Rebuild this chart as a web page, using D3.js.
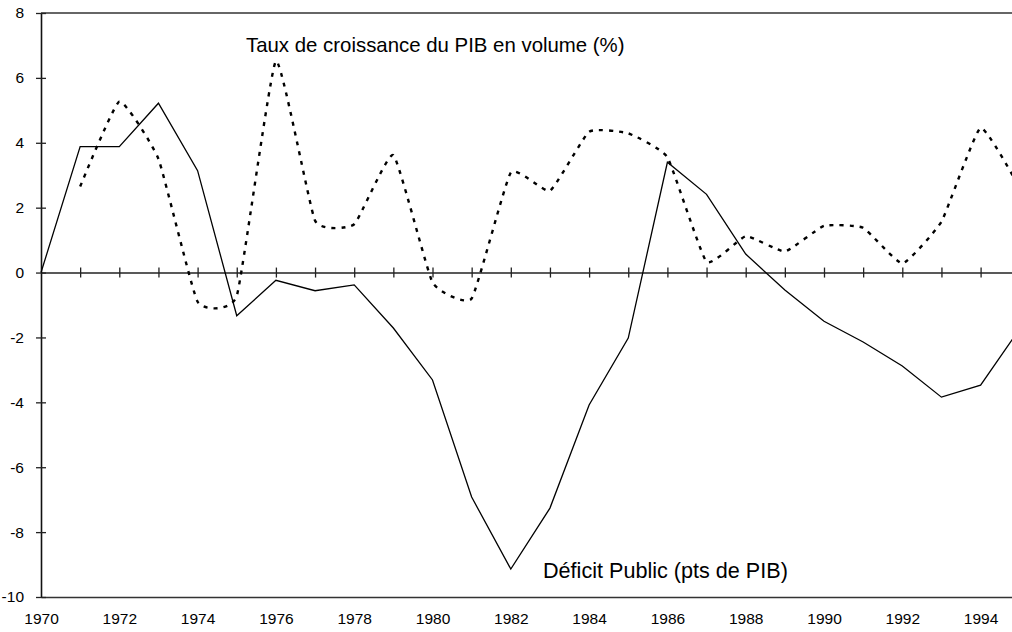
<!DOCTYPE html>
<html>
<head>
<meta charset="utf-8">
<script src="https://cdn.jsdelivr.net/npm/d3@7"></script>
<style>
  body { margin: 0; background: #fff; }
  svg { display: block; font-family: Arial, "Liberation Sans", sans-serif; }
</style>
</head>
<body>
<svg id="chart" width="1012" height="632"></svg>
<script>
// annual values
const years = [1970, 1971, 1972, 1973, 1974, 1975, 1976, 1977, 1978, 1979, 1980, 1981, 1982,
  1983, 1984, 1985, 1986, 1987, 1988, 1989, 1990, 1991, 1992, 1993, 1994, 1995];
const deficit = [0, 3.88, 3.88, 5.22, 3.14, -1.33, -0.24, -0.56, -0.38, -1.71, -3.31, -6.92, -9.14,
  -7.26, -4.08, -2.02, 3.40, 2.41, 0.57, -0.54, -1.5, -2.14, -2.88, -3.84, -3.47, -1.73];
const growth = [null, 2.65, 5.27, 3.5, -0.9, -0.72, 6.52, 1.6, 1.49, 3.62, -0.3, -0.8, 3.08,
  2.52, 4.34, 4.29, 3.55, 0.33, 1.12, 0.65, 1.44, 1.38, 0.28, 1.57, 4.46, 2.6];
const yTicks = [-10, -8, -6, -4, -2, 0, 2, 4, 6, 8];
const xLabels = [1970, 1972, 1974, 1976, 1978, 1980, 1982, 1984, 1986, 1988, 1990, 1992, 1994];
const growthLabel = 'Taux de croissance du PIB en volume (%)';
const deficitLabel = 'Déficit Public (pts de PIB)';

const svg = d3.select('#chart');
const font = 'Arial, "Liberation Sans", sans-serif';

const x = d3.scaleLinear().domain([1970, 1995]).range([41, 1019.75]);
const y = d3.scaleLinear().domain([-10, 8]).range([597, 13]);

// frame (top / bottom), right side falls outside the picture
svg.append('line')
    .attr('x1', x(1970)).attr('x2', 1012)
    .attr('y1', y(8)).attr('y2', y(8))
    .attr('stroke', '#333').attr('stroke-width', 1.5);

// bottom axis: labels only, the domain line is the bottom of the frame
const xAxis = svg.append('g')
    .attr('transform', 'translate(0,' + y(-10) + ')')
    .call(d3.axisBottom(x).tickValues(xLabels).tickFormat(d3.format('d')).tickSize(0).tickPadding(16));
xAxis.select('.domain').attr('stroke', '#333').attr('stroke-width', 1.5);
xAxis.selectAll('text').attr('font-size', 15.5).attr('fill', '#000').attr('font-family', font);

// zero line with year ticks
const zeroAxis = svg.append('g')
    .attr('transform', 'translate(0,' + y(0) + ')')
    .call(d3.axisBottom(x).tickValues(years.slice(1)).tickFormat('').tickSizeOuter(0));
zeroAxis.select('.domain').attr('stroke', '#222').attr('stroke-width', 1.5);
zeroAxis.selectAll('.tick line').attr('y1', -5).attr('y2', 5).attr('stroke', '#222').attr('stroke-width', 1.3);

// left axis (plain hyphen for negatives, as in the original)
const yAxis = svg.append('g')
    .attr('transform', 'translate(' + x(1970) + ',0)')
    .call(d3.axisLeft(y).tickValues(yTicks).tickFormat((d) => String(d)).tickSizeOuter(0).tickPadding(11));
yAxis.select('.domain').attr('stroke', '#111').attr('stroke-width', 1.6);
yAxis.selectAll('.tick line').attr('x1', -5).attr('x2', 5).attr('stroke', '#222').attr('stroke-width', 1.3);
yAxis.selectAll('text').attr('font-size', 15.5).attr('fill', '#000').attr('font-family', font);

// deficit: plain line
const deficitLine = d3.line()
    .x((d, i) => x(years[i]))
    .y((d) => y(d));

svg.append('path')
    .datum(deficit)
    .attr('d', deficitLine)
    .attr('fill', 'none')
    .attr('stroke', '#000')
    .attr('stroke-width', 1.3);

// growth: lightly smoothed dashed line
const growthLine = d3.line()
    .defined((d) => d !== null)
    .x((d, i) => x(years[i]))
    .y((d) => y(d))
    .curve(d3.curveCardinal.tension(0.6));

svg.append('path')
    .datum(growth)
    .attr('d', growthLine)
    .attr('fill', 'none')
    .attr('stroke', '#000')
    .attr('stroke-width', 2.4)
    .attr('stroke-dasharray', '4,6');

// series labels
svg.append('text')
    .attr('x', 246).attr('y', 52)
    .attr('font-size', 20.4)
    .attr('font-family', font)
    .text(growthLabel);

svg.append('text')
    .attr('x', 543).attr('y', 578)
    .attr('font-size', 21.6)
    .attr('font-family', font)
    .text(deficitLabel);
</script>
</body>
</html>
